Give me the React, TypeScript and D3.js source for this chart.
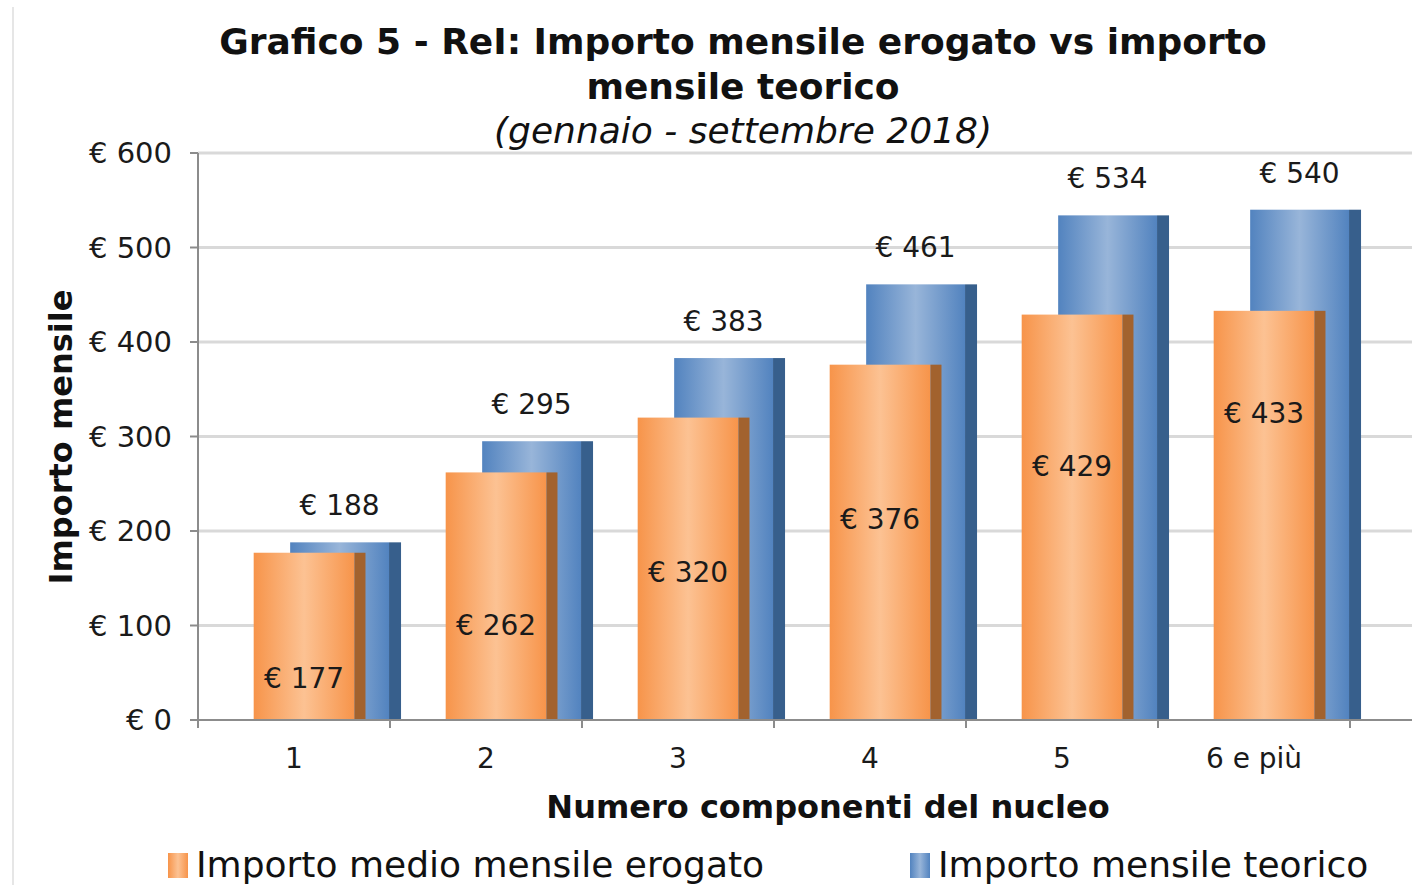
import React, { useEffect, useRef } from "react"
import * as d3 from "d3"

const categories = ["1", "2", "3", "4", "5", "6 e più"]
const erogato = [177, 262, 320, 376, 429, 433]
const teorico = [188, 295, 383, 461, 534, 540]
const yTicks = [0, 100, 200, 300, 400, 500, 600]
const seriesNames = ["Importo medio mensile erogato", "Importo mensile teorico"]

const W = 1412
const H = 885
const FONT = "'DejaVu Sans', Verdana, sans-serif"

export default function App() {
  const ref = useRef<SVGSVGElement>(null)

  useEffect(() => {
    const svg = d3.select(ref.current)
    svg.selectAll("*").remove()

    const defs = svg.append("defs")
    const grad = (id: string, c1: string, c2: string) => {
      const g = defs.append("linearGradient").attr("id", id)
        .attr("x1", "0").attr("x2", "1").attr("y1", "0").attr("y2", "0")
      g.append("stop").attr("offset", "0").attr("stop-color", c1)
      g.append("stop").attr("offset", "0.5").attr("stop-color", c2)
      g.append("stop").attr("offset", "1").attr("stop-color", c1)
    }
    grad("gOrange", "#f7944a", "#fcc293")
    grad("gBlue", "#5283bf", "#98b5d9")

    // frame line on the left
    svg.append("line")
      .attr("x1", 13).attr("x2", 13).attr("y1", 7).attr("y2", H)
      .attr("stroke", "#e6e6e6").attr("stroke-width", 2)

    const left = 198, right = 1350, top = 153, bottom = 720

    let x = d3.scaleBand()
      .domain(categories)
      .range([left, right])

    let y = d3.scaleLinear()
      .domain([0, 600])
      .range([bottom, top])

    const bw = x.bandwidth()

    // gridlines
    svg.append("g").selectAll("line")
      .data(yTicks.filter(d => d > 0))
      .enter().append("line")
      .attr("x1", left).attr("x2", W)
      .attr("y1", d => y(d)).attr("y2", d => y(d))
      .attr("stroke", "#d9d9d9").attr("stroke-width", 3)

    // y tick labels
    svg.append("g").selectAll("text")
      .data(yTicks)
      .enter().append("text")
      .attr("x", 172).attr("y", d => y(d))
      .attr("dy", "0.36em")
      .attr("text-anchor", "end")
      .attr("font-family", FONT).attr("font-size", 29)
      .attr("fill", "#1a1a1a")
      .text(d => `€ ${d}`)

    svg.append("g").selectAll("line")
      .data(yTicks)
      .enter().append("line")
      .attr("x1", 190).attr("x2", left)
      .attr("y1", d => y(d)).attr("y2", d => y(d))
      .attr("stroke", "#8c8c8c").attr("stroke-width", 2)

    const drawBars = (vals: number[], off: number, fw: number, side: number, fill: string, sideFill: string) => {
      const g = svg.append("g")
      g.selectAll("rect.front")
        .data(vals)
        .enter().append("rect")
        .attr("x", (d, i) => x(categories[i])! + off * bw)
        .attr("y", d => y(d))
        .attr("width", fw * bw)
        .attr("height", d => bottom - y(d))
        .attr("fill", fill)
      g.selectAll("rect.side")
        .data(vals)
        .enter().append("rect")
        .attr("x", (d, i) => x(categories[i])! + (off + fw) * bw)
        .attr("y", d => y(d))
        .attr("width", side)
        .attr("height", d => bottom - y(d))
        .attr("fill", sideFill)
    }

    // blue behind, orange in front
    drawBars(teorico, 0.48, 0.515, 12, "url(#gBlue)", "#375f8c")
    drawBars(erogato, 0.29, 0.525, 11, "url(#gOrange)", "#a2622e")

    // blue labels above bars
    svg.append("g").selectAll("text")
      .data(teorico)
      .enter().append("text")
      .attr("x", (d, i) => x(categories[i])! + (0.48 + 0.515 / 2) * bw)
      .attr("y", d => y(d) - 27)
      .attr("text-anchor", "middle")
      .attr("font-family", FONT).attr("font-size", 28)
      .attr("fill", "#1a1a1a")
      .text(d => `€ ${d}`)

    // orange labels inside bars (Excel 3D placement: steps up per category)
    svg.append("g").selectAll("text")
      .data(erogato)
      .enter().append("text")
      .attr("x", (d, i) => x(categories[i])! + (0.29 + 0.525 / 2) * bw)
      .attr("y", (d, i) => y(45 + 56 * i))
      .attr("dy", "0.36em")
      .attr("text-anchor", "middle")
      .attr("font-family", FONT).attr("font-size", 28)
      .attr("fill", "#1a1a1a")
      .text(d => `€ ${d}`)

    // axes
    svg.append("line")
      .attr("x1", left).attr("x2", left).attr("y1", top).attr("y2", bottom)
      .attr("stroke", "#8c8c8c").attr("stroke-width", 2)
    svg.append("line")
      .attr("x1", left).attr("x2", W).attr("y1", bottom).attr("y2", bottom)
      .attr("stroke", "#8c8c8c").attr("stroke-width", 2)

    svg.append("g").selectAll("line")
      .data(categories.concat(["end"]))
      .enter().append("line")
      .attr("x1", (d, i) => left + i * bw).attr("x2", (d, i) => left + i * bw)
      .attr("y1", bottom).attr("y2", bottom + 8)
      .attr("stroke", "#8c8c8c").attr("stroke-width", 2)

    svg.append("g").selectAll("text")
      .data(categories)
      .enter().append("text")
      .attr("x", d => x(d)! + bw / 2)
      .attr("y", 768)
      .attr("text-anchor", "middle")
      .attr("font-family", FONT).attr("font-size", 28)
      .attr("fill", "#1a1a1a")
      .text(d => d)

    // titles
    const title = svg.append("text")
      .attr("text-anchor", "middle")
      .attr("font-family", FONT)
      .attr("fill", "#111")
    title.append("tspan").attr("x", 743).attr("y", 54)
      .attr("font-weight", "bold").attr("font-size", 36)
      .text("Grafico 5 - ReI: Importo mensile erogato vs importo")
    title.append("tspan").attr("x", 743).attr("y", 99)
      .attr("font-weight", "bold").attr("font-size", 36)
      .text("mensile teorico")
    title.append("tspan").attr("x", 743).attr("y", 143)
      .attr("font-style", "italic").attr("font-size", 36)
      .text("(gennaio - settembre 2018)")

    svg.append("text")
      .attr("transform", "translate(72, 437) rotate(-90)")
      .attr("text-anchor", "middle")
      .attr("font-family", FONT).attr("font-weight", "bold").attr("font-size", 32)
      .attr("fill", "#111")
      .text("Importo mensile")

    svg.append("text")
      .attr("x", 828).attr("y", 818)
      .attr("text-anchor", "middle")
      .attr("font-family", FONT).attr("font-weight", "bold").attr("font-size", 32)
      .attr("fill", "#111")
      .text("Numero componenti del nucleo")

    // legend
    const legX = [168, 910]
    const legFill = ["url(#gOrange)", "url(#gBlue)"]
    const leg = svg.append("g").selectAll("g")
      .data(seriesNames)
      .enter().append("g")
    leg.append("rect")
      .attr("x", (d, i) => legX[i]).attr("y", 853)
      .attr("width", 20).attr("height", 25)
      .attr("fill", (d, i) => legFill[i])
    leg.append("text")
      .attr("x", (d, i) => legX[i] + 28).attr("y", 877)
      .attr("font-family", FONT).attr("font-size", 36)
      .attr("fill", "#111")
      .text(d => d)
  }, [])

  return (
    <svg ref={ref} width={W} height={H}
      style={{ position: "absolute", left: 0, top: 0, background: "#fff" }} />
  )
}
